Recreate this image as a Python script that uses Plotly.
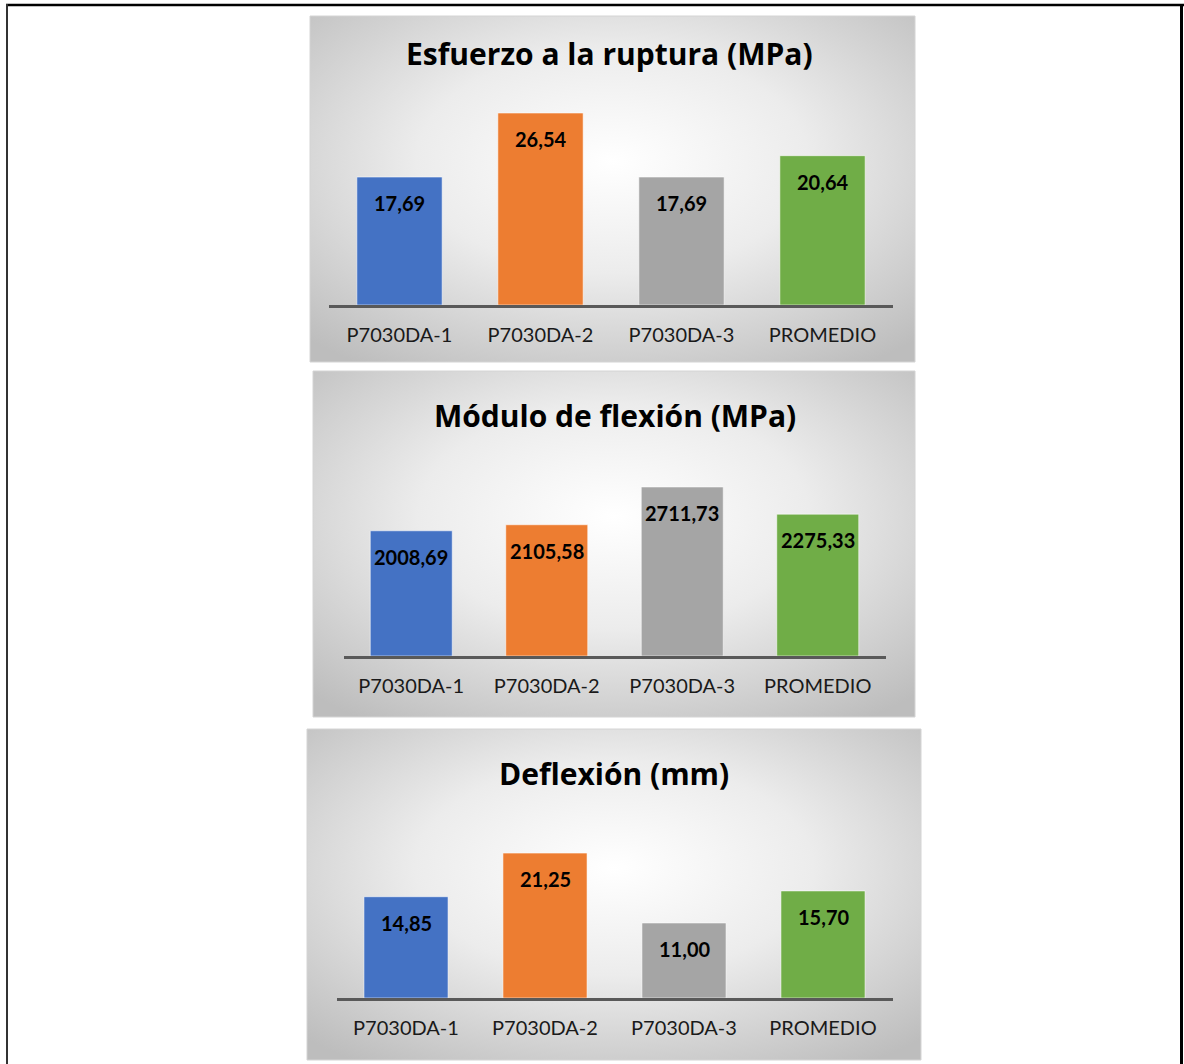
import base64
import plotly.graph_objects as go

# Categories and measured values for the three flexion-test panels
categories = ["P7030DA-1", "P7030DA-2", "P7030DA-3", "PROMEDIO"]
esfuerzo = [17.69, 26.54, 17.69, 20.64]
modulo = [2008.69, 2105.58, 2711.73, 2275.33]
deflexion = [14.85, 21.25, 11.00, 15.70]
titles = ["Esfuerzo a la ruptura (MPa)", "Módulo de flexión (MPa)", "Deflexión (mm)"]
y_max = [30, 3000, 25]

bar_colors = ["#4472C4", "#ED7D31", "#A5A5A5", "#70AD47"]

W, H = 1184, 1064
FONT = "Lato"
TITLE_FONT = "Open Sans"


def px(x):
    return x / W


def py(y):
    return 1 - y / H


def fmt(v):
    return f"{v:.2f}".replace(".", ",")


# Panel boxes (left, top, right, bottom), plot areas (left, top, right, axis-line y)
# and title centres, all in pixels
panels = [
    dict(box=(310, 16, 915, 362), plot=(329, 88, 893, 305), title=(609, 54)),
    dict(box=(313, 371, 915, 717), plot=(343.5, 469, 885.5, 656), title=(614.5, 415)),
    dict(box=(307, 729, 921, 1060), plot=(336.5, 827.5, 892.5, 998), title=(614, 773)),
]
series = [esfuerzo, modulo, deflexion]

svg = (
    '<svg xmlns="http://www.w3.org/2000/svg" width="600" height="340" preserveAspectRatio="none">'
    '<defs><radialGradient id="g" cx="50%" cy="42%" r="72%">'
    '<stop offset="0" stop-color="#ffffff"/>'
    '<stop offset="0.45" stop-color="#ececec"/>'
    '<stop offset="1" stop-color="#bdbdbd"/>'
    '</radialGradient></defs>'
    '<rect x="0" y="0" width="600" height="340" fill="url(#g)"/></svg>'
)
bg_src = "data:image/svg+xml;base64," + base64.b64encode(svg.encode()).decode()

fig = go.Figure()
images, shapes, annotations = [], [], []

for i, (p, vals, title, ymax) in enumerate(zip(panels, series, titles, y_max)):
    n = "" if i == 0 else str(i + 1)
    xa, ya = "x" + n, "y" + n
    fig.add_trace(go.Bar(
        x=categories, y=vals, xaxis=xa, yaxis=ya,
        marker=dict(color=bar_colors, line=dict(color="rgba(255,255,255,0.55)", width=1)),
        width=0.605, hoverinfo="skip", showlegend=False,
    ))
    l, t, r, b = p["plot"]
    fig.update_layout(**{
        "xaxis" + n: dict(
            domain=[px(l), px(r)], anchor=ya, type="category",
            showline=True, linecolor="#595959", linewidth=3,
            ticks="", showgrid=False, zeroline=False, fixedrange=True,
            tickfont=dict(family=FONT, size=20, color="#1a1a1a"),
            ticklabelstandoff=10,
        ),
        "yaxis" + n: dict(
            domain=[py(b), py(t)], anchor=xa, range=[0, ymax],
            visible=False, showgrid=False, zeroline=False, fixedrange=True,
        ),
    })
    bl, bt, br, bb = p["box"]
    images.append(dict(
        source=bg_src, xref="paper", yref="paper",
        x=px(bl), y=py(bt), sizex=px(br) - px(bl), sizey=py(bt) - py(bb),
        xanchor="left", yanchor="top", sizing="stretch", layer="below",
    ))
    shapes.append(dict(
        type="rect", xref="paper", yref="paper",
        x0=px(bl), x1=px(br), y0=py(bb), y1=py(bt),
        line=dict(color="#d4d4d4", width=1), layer="below",
    ))
    tx, ty = p["title"]
    annotations.append(dict(
        text=f"<b>{title}</b>", xref="paper", yref="paper",
        x=px(tx), y=py(ty),
        xanchor="center", yanchor="middle", showarrow=False,
        font=dict(family=TITLE_FONT, size=30, color="#000000"),
    ))
    for c, v in zip(categories, vals):
        annotations.append(dict(
            text=f"<b>{fmt(v)}</b>", xref=xa, yref=ya, x=c, y=v,
            xanchor="center", yanchor="middle", yshift=-26, showarrow=False,
            font=dict(family=FONT, size=20, color="#000000"),
        ))

# Outer frame
shapes += [
    dict(type="line", xref="paper", yref="paper", x0=px(6), x1=1, y0=py(5), y1=py(5),
         line=dict(color="#000000", width=2.5)),
    dict(type="line", xref="paper", yref="paper", x0=px(7), x1=px(7), y0=py(4), y1=0,
         line=dict(color="#333333", width=2)),
    dict(type="line", xref="paper", yref="paper", x0=px(1181.5), x1=px(1181.5), y0=py(4), y1=0,
         line=dict(color="#000000", width=3)),
]

fig.update_layout(
    width=W, height=H, margin=dict(l=0, r=0, t=0, b=0),
    paper_bgcolor="#ffffff", plot_bgcolor="rgba(0,0,0,0)",
    images=images, shapes=shapes, annotations=annotations,
    bargap=0.395,
)

fig.write_html("out.html", config={"displayModeBar": False})
